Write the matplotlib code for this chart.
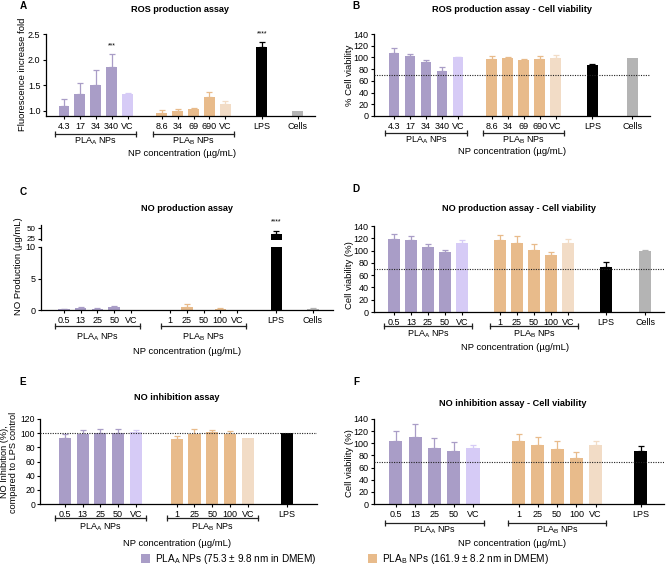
import numpy as np
import matplotlib
matplotlib.use("Agg")
import matplotlib.pyplot as plt
from matplotlib.patches import Patch
from matplotlib.transforms import offset_copy

plt.rcParams["font.family"] = ["Liberation Sans", "DejaVu Sans"]
plt.rcParams["mathtext.fontset"] = "custom"
plt.rcParams["mathtext.rm"] = "Liberation Sans"
plt.rcParams["mathtext.default"] = "regular"
plt.rcParams["font.size"] = 6

W, H = 669, 587

PURPLE = "#a99dc7"
PURPLE_VC = "#d6cbf6"
ORANGE = "#e8bb8b"
ORANGE_VC = "#f2dcc6"
LPS_COLOR = "#000000"
CELLS_COLOR = "#b4b4b4"

# ---- data ----
# (A) ROS production
ros_conc_a = ["4.3", "17", "34", "340", "VC"]
ros_conc_b = ["8.6", "34", "69", "690", "VC"]
ros_a_mean = [1.09, 1.32, 1.51, 1.86, 1.33]
ros_a_sd = [0.15, 0.22, 0.29, 0.24, 0.02]
ros_b_mean = [0.96, 0.99, 1.04, 1.28, 1.14]
ros_b_sd = [0.05, 0.05, 0.02, 0.09, 0.05]
ros_lps = [2.24, 0.11]
ros_cells = [1.0, 0.0]

# (B) ROS assay - cell viability
rosv_a_mean = [107, 102, 93, 76, 100]
rosv_a_sd = [9, 4, 3, 7, 1]
rosv_b_mean = [98, 99, 96, 97, 99.5]
rosv_b_sd = [5, 2, 1, 5, 5]
rosv_lps = [87, 2]
rosv_cells = [99, 0]

# (C) NO production
no_conc_a = ["0.5", "13", "25", "50", "VC"]
no_conc_b = ["1", "25", "50", "100", "VC"]
no_a_mean = [0.12, 0.3, 0.2, 0.45, 0.05]
no_a_sd = [0.05, 0.15, 0.1, 0.2, 0.0]
no_b_mean = [0.05, 0.45, 0.05, 0.2, 0.05]
no_b_sd = [0.0, 0.5, 0.0, 0.1, 0.0]
no_lps = [37.5, 5.0]
no_cells = [0.15, 0.15]

# (D) NO assay - cell viability
nov_a_mean = [119, 117, 106, 97, 112]
nov_a_sd = [8, 7, 5, 4, 6]
nov_b_mean = [117, 113, 101, 92, 113]
nov_b_sd = [9, 10, 9, 6, 6]
nov_lps = [74, 7]
nov_cells = [100, 1]

# (E) NO inhibition
noi_a_mean = [93, 99, 100, 100, 101]
noi_a_sd = [6, 5, 6, 6, 3]
noi_b_mean = [92, 99, 101, 99, 92.5]
noi_b_sd = [4, 7, 4, 4, 0]
noi_lps = [100, 0]

# (F) NO inhibition - cell viability
noiv_a_mean = [104, 111, 93, 87, 93]
noiv_a_sd = [17, 21, 16, 15, 5]
noiv_b_mean = [103, 97, 90, 75, 98]
noiv_b_sd = [12, 13, 13, 10, 6]
noiv_lps = [88, 7]

LEG_A = "PLA$_{A}$ NPs (75.3 ± 9.8 nm in DMEM)"
LEG_B = "PLA$_{B}$ NPs (161.9 ± 8.2 nm in DMEM)"
XLABEL = "NP concentration (µg/mL)"

TICK_FS = 6.5
LABEL_FS = 6.8

fig = plt.figure(figsize=(W / 100, H / 100), dpi=100)


def rect(x0, y0, x1, y1):
    return [x0 / W, 1 - y1 / H, (x1 - x0) / W, (y1 - y0) / H]


def ftext(x, y, s, **kw):
    fig.text(x / W, 1 - y / H, s, **kw)


def style(ax):
    for s in ["top", "right"]:
        ax.spines[s].set_visible(False)
    for s in ["left", "bottom"]:
        ax.spines[s].set_linewidth(0.9)
    ax.tick_params(length=2.5, width=0.8, pad=1.5, labelsize=TICK_FS)


def bars(ax, pos, means, sds, colors, width=0.68):
    ax.bar(pos, means, width=width, color=colors, zorder=2)
    for p, m, s, c in zip(pos, means, sds, colors):
        if s > 0:
            ax.errorbar([p], [m], yerr=[[0], [s]], fmt="none", ecolor=c,
                        elinewidth=0.9, capsize=2.2, capthick=0.9, zorder=1)


def bracket(ax, x0, x1, label, dy_line, dy_text):
    tr = offset_copy(ax.get_xaxis_transform(), fig=fig, y=-dy_line, units="dots")
    ax.plot([x0, x1], [0, 0], transform=tr, color="#222222", lw=0.9,
            marker="|", ms=4, mew=0.9, clip_on=False)
    tr2 = offset_copy(ax.get_xaxis_transform(), fig=fig, y=-dy_text, units="dots")
    ax.text((x0 + x1) / 2, 0, label, transform=tr2, ha="center", va="center",
            fontsize=TICK_FS)


def panel(ax, la, lb, am, asd, bm, bsd, extras, b_start, xlim, offs):
    a_pos = np.arange(5)
    b_pos = b_start + np.arange(5)
    bars(ax, a_pos, am, asd, [PURPLE] * 4 + [PURPLE_VC])
    bars(ax, b_pos, bm, bsd, [ORANGE] * 4 + [ORANGE_VC])
    e_pos = [e[0] for e in extras]
    bars(ax, e_pos, [e[2] for e in extras], [e[3] for e in extras],
         [e[4] for e in extras])
    ax.set_xticks(list(a_pos) + list(b_pos) + e_pos)
    ax.set_xticklabels(la + lb + [e[1] for e in extras])
    ax.set_xlim(*xlim)
    style(ax)
    bracket(ax, a_pos[0] - 0.55, a_pos[-1] + 0.55, "PLA$_{A}$ NPs", offs[0], offs[1])
    bracket(ax, b_pos[0] - 0.55, b_pos[-1] + 0.55, "PLA$_{B}$ NPs", offs[0], offs[1])
    return a_pos, b_pos


# ---- A ----
axA = fig.add_axes(rect(46, 34, 315, 116))
panel(axA, ros_conc_a, ros_conc_b, ros_a_mean, ros_a_sd, ros_b_mean, ros_b_sd,
      [(12.45, "LPS", ros_lps[0], ros_lps[1], LPS_COLOR),
       (14.7, "Cells", ros_cells[0], ros_cells[1], CELLS_COLOR)],
      6.16, (-1.13, 15.8), (18, 25))
axA.set_ylim(0.9, 2.5)
axA.set_yticks([1.0, 1.5, 2.0, 2.5])
axA.text(3, 2.23, "***", ha="center", fontsize=5)
axA.text(12.45, 2.47, "****", ha="center", fontsize=5, clip_on=False)

# ---- B ----
axB = fig.add_axes(rect(374, 34, 650, 116))
panel(axB, ros_conc_a, ros_conc_b, rosv_a_mean, rosv_a_sd, rosv_b_mean, rosv_b_sd,
      [(12.4, "LPS", rosv_lps[0], rosv_lps[1], LPS_COLOR),
       (14.9, "Cells", rosv_cells[0], rosv_cells[1], CELLS_COLOR)],
      6.1, (-1.25, 16.0), (17, 24))
axB.set_ylim(0, 140)
axB.set_yticks(range(0, 141, 20))
axB.axhline(70, color="#222222", lw=0.8, ls=(0, (1, 1.2)), zorder=3)

# ---- C (broken axis) ----
axC = fig.add_axes(rect(41, 247, 333, 310))
axCt = fig.add_axes(rect(41, 225, 333, 240), sharex=axC)
c_extras = [(12.7, "LPS", no_lps[0], no_lps[1], LPS_COLOR),
            (14.9, "Cells", no_cells[0], no_cells[1], CELLS_COLOR)]
panel(axC, no_conc_a, no_conc_b, no_a_mean, no_a_sd, no_b_mean, no_b_sd,
      c_extras, 6.35, (-1.38, 16.1), (16, 27))
axC.set_ylim(0, 10)
axC.set_yticks([0, 5, 10])
axCt.bar([12.7], [no_lps[0]], width=0.68, color=LPS_COLOR, zorder=2)
axCt.errorbar([12.7], [no_lps[0]], yerr=[[0], [no_lps[1]]], fmt="none",
              ecolor=LPS_COLOR, elinewidth=0.9, capsize=2.2, capthick=0.9)
axCt.set_ylim(22, 58)
axCt.set_yticks([25, 50])
style(axCt)
axCt.tick_params(axis="y", labelsize=5.8)
axCt.spines["bottom"].set_visible(False)
axCt.tick_params(axis="x", bottom=False, labelbottom=False)
axCt.text(12.7, 61, "****", ha="center", fontsize=5, clip_on=False)

# ---- D ----
axD = fig.add_axes(rect(374, 226, 664, 312))
panel(axD, no_conc_a, no_conc_b, nov_a_mean, nov_a_sd, nov_b_mean, nov_b_sd,
      [(12.4, "LPS", nov_lps[0], nov_lps[1], LPS_COLOR),
       (14.7, "Cells", nov_cells[0], nov_cells[1], CELLS_COLOR)],
      6.2, (-1.16, 15.8), (14, 22))
axD.set_ylim(0, 140)
axD.set_yticks(range(0, 141, 20))
axD.axhline(70, color="#222222", lw=0.8, ls=(0, (1, 1.2)), zorder=3)

# ---- E ----
axE = fig.add_axes(rect(40, 419, 317, 504))
panel(axE, no_conc_a, no_conc_b, noi_a_mean, noi_a_sd, noi_b_mean, noi_b_sd,
      [(12.5, "LPS", noi_lps[0], noi_lps[1], LPS_COLOR)],
      6.3, (-1.4, 14.2), (14, 23))
axE.set_ylim(0, 120)
axE.set_yticks(range(0, 121, 20))
axE.tick_params(axis="y", labelsize=6.2, pad=1.0)
axE.axhline(100, color="#222222", lw=0.8, ls=(0, (1, 1.2)), zorder=3)

# ---- F ----
axF = fig.add_axes(rect(374, 419, 664, 504))
panel(axF, no_conc_a, no_conc_b, noiv_a_mean, noiv_a_sd, noiv_b_mean, noiv_b_sd,
      [(12.7, "LPS", noiv_lps[0], noiv_lps[1], LPS_COLOR)],
      6.36, (-1.13, 13.9), (19, 26))
axF.set_ylim(0, 140)
axF.set_yticks(range(0, 141, 20))
axF.axhline(70, color="#222222", lw=0.8, ls=(0, (1, 1.2)), zorder=3)

# ---- figure texts ----
for x, y, s in [(23, 6, "A"), (356, 6, "B"), (23, 192, "C"),
                (356, 189, "D"), (23, 382, "E"), (356, 382, "F")]:
    ftext(x, y, s, fontsize=7.2, fontweight="bold", ha="center", va="center")

for x, y, s in [(180, 9, "ROS production assay"),
                (512, 9, "ROS production assay - Cell viability"),
                (187, 208, "NO production assay"),
                (519, 208, "NO production assay - Cell viability"),
                (177, 398, "NO inhibition assay"),
                (513, 403, "NO inhibition assay - Cell viability")]:
    ftext(x, y, s, fontsize=6.6, fontweight="bold", ha="center", va="center")

for x, y in [(182, 153), (512, 152), (187, 351), (515, 347), (177, 544), (512, 544)]:
    ftext(x, y, XLABEL, fontsize=LABEL_FS, ha="center", va="center")

ftext(23, 74, "Fluorescence increase fold", fontsize=LABEL_FS, rotation=90, ha="center", va="center")
ftext(350, 75, "% Cell viability", fontsize=LABEL_FS, rotation=90, ha="center", va="center")
ftext(19, 266, "NO Production (µg/mL)", fontsize=LABEL_FS, rotation=90, ha="center", va="center")
ftext(350, 275, "Cell viability (%)", fontsize=LABEL_FS, rotation=90, ha="center", va="center")
ftext(9, 462, "NO Inhibition (%),\ncompared to LPS control", fontsize=6.6,
      rotation=90, ha="center", va="center", linespacing=0.95)
ftext(350, 463, "Cell viability (%)", fontsize=LABEL_FS, rotation=90, ha="center", va="center")

handles = [Patch(facecolor=PURPLE, label=LEG_A), Patch(facecolor=ORANGE, label=LEG_B)]
fig.legend(handles=handles, loc="center", bbox_to_anchor=(345 / W, 1 - 559 / H),
           ncol=2, frameon=False, fontsize=7.2, handlelength=0.9, handleheight=1.1,
           handletextpad=0.5, columnspacing=5.2)

fig.savefig("out.png", dpi=100)
